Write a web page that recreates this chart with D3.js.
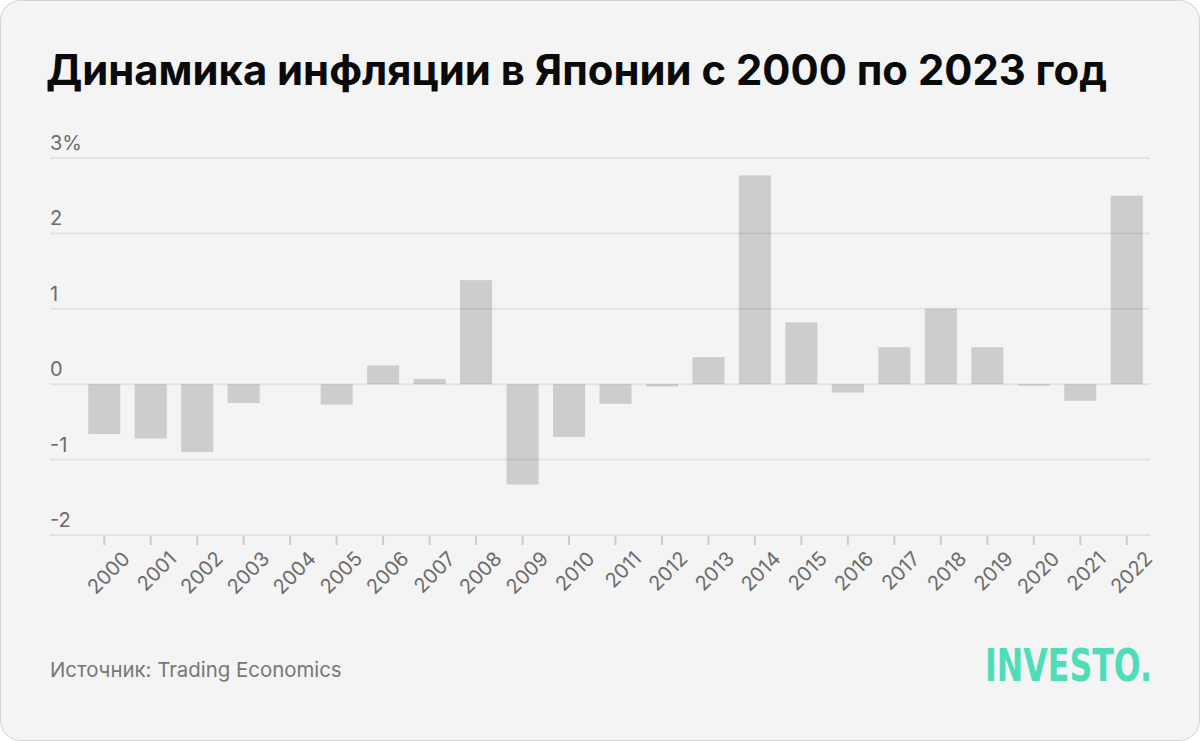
<!DOCTYPE html>
<html>
<head>
    <meta charset="utf-8">
    <title>Инфляция в Японии</title>
    <script src="https://d3js.org/d3.v7.min.js"></script>
    <style>
        body { margin: 0; background: #ffffff; }
        svg { display: block; font-family: Inter, "Noto Sans", sans-serif; }
    </style>
</head>
<body>
    <svg id="chart" width="1200" height="741"></svg>

    <script>
        // Inflation data
        const years = ["2000", "2001", "2002", "2003", "2004", "2005", "2006", "2007", "2008", "2009", "2010", "2011",
                       "2012", "2013", "2014", "2015", "2016", "2017", "2018", "2019", "2020", "2021", "2022"];
        const inflation = [-0.66, -0.72, -0.90, -0.25, 0.0, -0.27, 0.25, 0.07, 1.38, -1.33, -0.70, -0.26,
                           -0.03, 0.36, 2.77, 0.82, -0.11, 0.49, 1.0, 0.49, -0.02, -0.22, 2.5];
        const yTicks = [3, 2, 1, 0, -1, -2];
        const yTickLabels = ["3%", "2", "1", "0", "-1", "-2"];

        const svg = d3.select("#chart");
        const W = +svg.attr("width");
        const H = +svg.attr("height");

        // card
        svg.append("rect")
            .attr("x", 0.5).attr("y", 0.5)
            .attr("width", W - 1).attr("height", H - 1)
            .attr("rx", 20)
            .attr("fill", "#f4f4f4")
            .attr("stroke", "#d2d2d2");

        svg.append("text")
            .attr("x", 46)
            .attr("y", 85)
            .style("font-size", "41.8px")
            .style("font-weight", "700")
            .style("fill", "#0a0a0a")
            .text("Динамика инфляции в Японии с 2000 по 2023 год");

        const gridLeft = 50, gridRight = 1150;
        const x = d3.scaleBand().domain(years).range([81, 1150]).paddingInner(0.31).paddingOuter(0.155);
        const y = d3.scaleLinear().domain([-2, 3]).range([535, 158]);

        // grid lines
        svg.append("g").selectAll("line")
            .data(yTicks)
            .join("line")
            .attr("x1", gridLeft).attr("x2", gridRight)
            .attr("y1", d => y(d)).attr("y2", d => y(d))
            .attr("stroke", "#e3e3e3")
            .attr("stroke-width", 2);

        svg.append("g").selectAll("text")
            .data(yTicks)
            .join("text")
            .attr("x", gridLeft)
            .attr("y", d => y(d) - 8)
            .style("font-size", "20px")
            .style("fill", "#6b6b6b")
            .text((d, i) => yTickLabels[i]);

        // bars
        svg.append("g").selectAll("rect")
            .data(inflation)
            .join("rect")
            .attr("x", (d, i) => x(years[i]))
            .attr("width", x.bandwidth())
            .attr("y", d => y(Math.max(0, d)))
            .attr("height", d => Math.abs(y(d) - y(0)))
            .attr("fill", "#000")
            .attr("fill-opacity", 0.155);

        // x axis
        const xAxis = svg.append("g")
            .attr("transform", "translate(0," + y(-2) + ")")
            .call(d3.axisBottom(x).tickSize(10).tickSizeOuter(0).tickPadding(8));
        xAxis.select(".domain").remove();
        xAxis.selectAll(".tick line")
            .attr("stroke", "#cccccc")
            .attr("stroke-width", 2)
            .attr("y1", 1);
        xAxis.selectAll(".tick text")
            .style("font-size", "20px")
            .style("font-family", "Inter, 'Noto Sans', sans-serif")
            .style("fill", "#6b6b6b")
            .attr("text-anchor", "end")
            .attr("dy", "0.3em")
            .attr("transform", "translate(10,8) rotate(-45)");

        // footer
        svg.append("text")
            .attr("x", 50)
            .attr("y", 677)
            .style("font-size", "20.4px")
            .style("fill", "#777777")
            .text("Источник: Trading Economics");

        svg.append("text")
            .attr("x", 985)
            .attr("y", 681)
            .attr("textLength", 167)
            .attr("lengthAdjust", "spacingAndGlyphs")
            .style("font-family", "'DejaVu Sans Condensed', 'Liberation Sans Narrow', sans-serif")
            .style("font-size", "44px")
            .style("font-weight", "700")
            .style("fill", "#4fddb9")
            .text("INVESTO.");
    </script>
</body>
</html>
